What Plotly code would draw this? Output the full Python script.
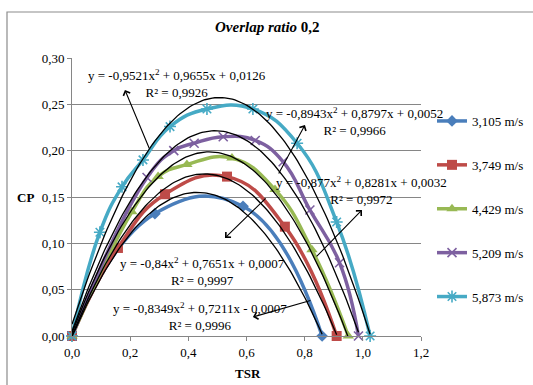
import numpy as np
import plotly.graph_objects as go

# ---------------- data ----------------
series_names = ["3,105 m/s", "3,749 m/s", "4,429 m/s", "5,209 m/s", "5,873 m/s"]

tsr_3105 = [0.0, 0.285, 0.588, 0.86]
cp_3105 = [0.0, 0.132, 0.140, 0.0]

tsr_3749 = [0.0, 0.158, 0.32, 0.533, 0.732, 0.91]
cp_3749 = [0.0, 0.095, 0.153, 0.172, 0.118, 0.0]

tsr_4429 = [0.0, 0.206, 0.296, 0.395, 0.55, 0.698, 0.825, 0.95]
cp_4429 = [0.0, 0.134, 0.172, 0.185, 0.192, 0.158, 0.093, 0.0]

tsr_5209 = [0.0, 0.258, 0.35, 0.42, 0.52, 0.63, 0.726, 0.818, 0.92, 0.985]
cp_5209 = [0.0, 0.171, 0.200, 0.208, 0.215, 0.211, 0.188, 0.136, 0.079, 0.0]

tsr_5873 = [0.0, 0.096, 0.172, 0.244, 0.337, 0.464, 0.622, 0.774, 0.91, 1.025]
cp_5873 = [0.0, 0.112, 0.161, 0.190, 0.226, 0.245, 0.245, 0.208, 0.123, 0.0]

# polynomial trendline coefficients (a, b, c) printed on the chart
coef_3105 = [-0.8349, 0.7211, -0.0007]
coef_3749 = [-0.84, 0.7651, 0.0007]
coef_4429 = [-0.877, 0.8281, 0.0032]
coef_5209 = [-0.8943, 0.8797, 0.0052]
coef_5873 = [-0.9521, 0.9655, 0.0126]

eq_texts = [
    "y = -0,8349x<sup>2</sup> + 0,7211x - 0,0007<br>R² = 0,9996",
    "y = -0,84x<sup>2</sup> + 0,7651x + 0,0007<br>R² = 0,9997",
    "y = -0,877x<sup>2</sup> + 0,8281x + 0,0032<br>R² = 0,9972",
    "y = -0,8943x<sup>2</sup> + 0,8797x + 0,0052<br>R² = 0,9966",
    "y = -0,9521x<sup>2</sup> + 0,9655x + 0,0126<br>R² = 0,9926",
]

x_ticks = [0.0, 0.2, 0.4, 0.6, 0.8, 1.0, 1.2]
y_ticks = [0.00, 0.05, 0.10, 0.15, 0.20, 0.25, 0.30]

# ---------------- style ----------------
FONT = "Liberation Serif"
colors = ["#4A7EBB", "#BE4B48", "#98B954", "#7D60A0", "#46AAC5"]
symbols = ["diamond", "square", "triangle-up", "x-thin-open", "asterisk-open"]
msizes = [9, 10, 10, 9, 10]

all_tsr = [tsr_3105, tsr_3749, tsr_4429, tsr_5209, tsr_5873]
all_cp = [cp_3105, cp_3749, cp_4429, cp_5209, cp_5873]
all_coef = [coef_3105, coef_3749, coef_4429, coef_5209, coef_5873]

fig = go.Figure()

for i in range(5):
    open_sym = symbols[i].endswith("open")
    fig.add_trace(go.Scatter(
        x=all_tsr[i], y=all_cp[i], name=series_names[i],
        mode="lines+markers",
        line=dict(color=colors[i], width=3.5, shape="spline", smoothing=1.3),
        marker=dict(symbol=symbols[i], size=msizes[i], color=colors[i],
                    line=dict(color=colors[i], width=1.6 if open_sym else 0)),
        legendgroup=str(i), cliponaxis=False,
    ))

for i in range(5):
    a, b, c = all_coef[i]
    xs = np.linspace(0, max(all_tsr[i]), 120)
    ys = a * xs ** 2 + b * xs + c
    fig.add_trace(go.Scatter(
        x=xs, y=ys, mode="lines", showlegend=False, hoverinfo="skip",
        line=dict(color="black", width=1.3), cliponaxis=False,
    ))

# equation labels (centre positions in data units)
eq_pos = [(0.440, 0.021), (0.447, 0.0696), (0.997, 0.1565), (0.970, 0.232), (0.361, 0.272)]
for (x, y), t in zip(eq_pos, eq_texts):
    fig.add_annotation(x=x, y=y, xref="x", yref="y", text=t, showarrow=False,
                       font=dict(family=FONT, size=13, color="black"),
                       xanchor="center", yanchor="middle", align="center")

# arrows: (head x, head y, tail x, tail y)
arrows = [
    (0.622, 0.0205, 0.825, 0.0388),
    (0.526, 0.1058, 0.671, 0.150),
    (0.997, 0.136, 0.836, 0.0842),
    (0.801, 0.2277, 0.708, 0.1737),
    (0.182, 0.2655, 0.268, 0.2007),
]
for hx, hy, tx, ty in arrows:
    fig.add_annotation(x=hx, y=hy, ax=tx, ay=ty, xref="x", yref="y",
                       axref="x", ayref="y", text="", showarrow=True,
                       arrowhead=4, arrowsize=1.3, arrowwidth=1.1,
                       arrowcolor="black", standoff=0, startstandoff=0)

# axis titles and chart title
fig.add_annotation(x=(248 - 72) / 349, y=(336 - 373) / 278, xref="paper", yref="paper",
                   text="<b>TSR</b>", showarrow=False, xanchor="center", yanchor="middle",
                   font=dict(family=FONT, size=13, color="black"))
fig.add_annotation(x=(25 - 72) / 349, y=(336 - 197) / 278, xref="paper", yref="paper",
                   text="<b>CP</b>", showarrow=False, xanchor="center", yanchor="middle",
                   font=dict(family=FONT, size=13, color="black"))
fig.add_annotation(x=(267 - 72) / 349, y=(336 - 27) / 278, xref="paper", yref="paper",
                   text="<b><i>Overlap ratio</i> 0,2</b>", showarrow=False,
                   xanchor="center", yanchor="middle",
                   font=dict(family=FONT, size=15, color="black"))

# chart-area border (cropped on the right and bottom)
fig.add_shape(type="rect", xref="paper", yref="paper",
              x0=(7 - 72) / 349, x1=(545 - 72) / 349,
              y0=(336 - 395) / 278, y1=(336 - 12) / 278,
              line=dict(color="#8C8C8C", width=1.2), fillcolor="rgba(0,0,0,0)", layer="below")

fig.update_layout(
    width=533, height=385,
    margin=dict(l=72, r=112, t=58, b=49, autoexpand=False),
    paper_bgcolor="white", plot_bgcolor="white",
    separators=", ",
    font=dict(family=FONT, size=13, color="black"),
    showlegend=True,
    legend=dict(x=(432 - 72) / 349, y=(336 - 106) / 278, xanchor="left", yanchor="top",
                font=dict(family=FONT, size=13, color="black"),
                tracegroupgap=24, itemwidth=30, bgcolor="rgba(0,0,0,0)"),
    xaxis=dict(range=[0, 1.2], tickvals=x_ticks, tickformat=".1f",
               showgrid=False, zeroline=False, showline=True, linecolor="#868686",
               linewidth=1, ticks="outside", ticklen=4, tickcolor="#868686",
               tickfont=dict(family=FONT, size=13, color="black")),
    yaxis=dict(range=[0, 0.30], tickvals=y_ticks, tickformat=".2f",
               showgrid=True, gridcolor="#868686", gridwidth=1, zeroline=False,
               showline=True, linecolor="#868686", linewidth=1,
               ticks="outside", ticklen=4, tickcolor="#868686",
               tickfont=dict(family=FONT, size=13, color="black")),
)

fig.write_html("out.html", config={"displayModeBar": False},
               post_script="document.body.style.margin='0px';")
